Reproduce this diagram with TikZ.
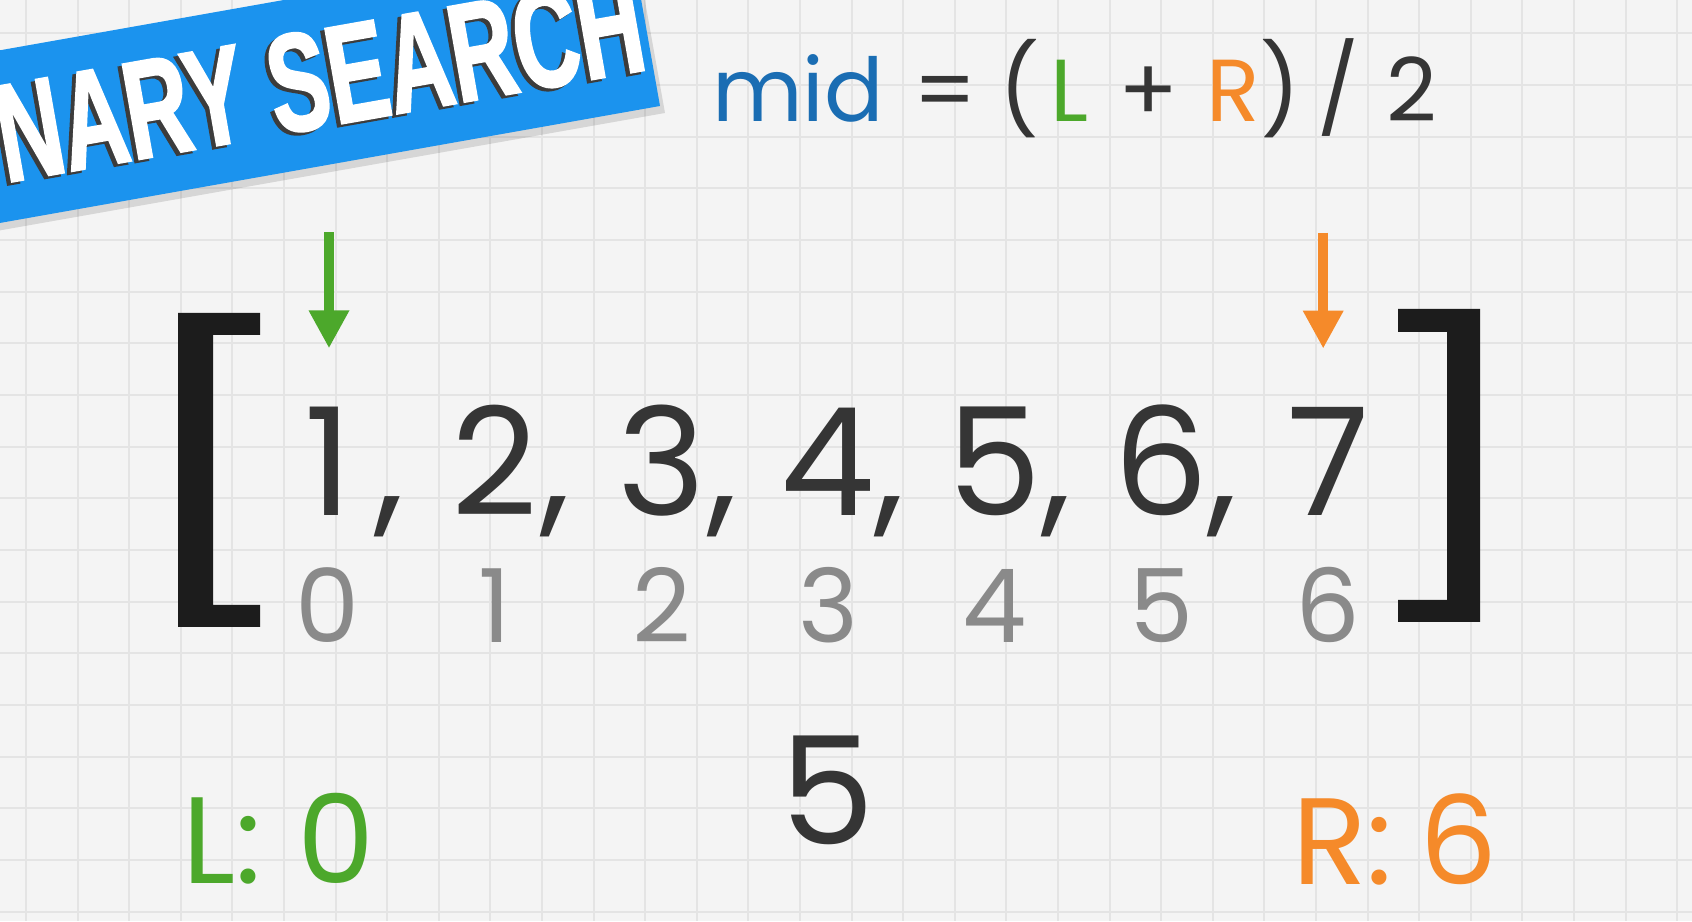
\documentclass[tikz,border=0pt]{standalone}
\usepackage{fontspec}
\setmainfont{Poppins}
\newfontfamily\bandeau{Liberation Sans}[FakeStretch=0.64, FakeBold=1.5]
\usetikzlibrary{arrows.meta,positioning}
\definecolor{fond}{HTML}{F4F4F4}
\definecolor{quadrillage}{HTML}{E4E4E4}
\definecolor{bleuvif}{HTML}{1B93EE}
\definecolor{bleu}{HTML}{1A6DB3}
\definecolor{vert}{HTML}{4CA82B}
\definecolor{orange}{HTML}{F58A2A}
\definecolor{encre}{HTML}{353535}
\definecolor{gris}{HTML}{8A8A8A}
\definecolor{noir}{HTML}{1C1C1C}
\definecolor{ombre}{HTML}{3C3C3C}
\tikzset{
  valeur/.style={inner sep=0pt, anchor=base, text=encre, font=\fontsize{150}{160}\selectfont},
  indice/.style={inner sep=0pt, anchor=base, text=gris, font=\fontsize{102}{110}\selectfont},
  compteur/.style={inner sep=0pt, anchor=base west, font=\fontsize{123}{130}\selectfont},
  formule/.style={inner sep=0pt, anchor=base, text=encre, font=\fontsize{88}{90}\selectfont},
  pointeur/.style={line width=10pt, -{Triangle[width=38pt,length=38pt]}},
  titre/.style={inner sep=0pt, anchor=base, rotate=10, font=\bandeau\bfseries\fontsize{140}{140}\selectfont},
}
\begin{document}
\begin{tikzpicture}[x=1pt, y=1pt]
	\useasboundingbox (0,0) rectangle (1692,921);
	\clip (0,0) rectangle (1692,921);
	
	% Fond quadrillé
	\fill[fond] (0,0) rectangle (1692,921);
	\foreach \k in {0,...,32}
		\draw[quadrillage, line width=2pt] ({26+51.6*\k},0) -- ({26+51.6*\k},921);
	\foreach \k in {0,...,17}
		\draw[quadrillage, line width=2pt] (0,{887.7-51.67*\k}) -- (1692,{887.7-51.67*\k});
	
	% Bandeau du titre
	\fill[black, opacity=0.12] (-196,656) -- (665,808) -- (635,976) -- (-226,824) -- cycle;
	\fill[bleuvif] (-200,662.6) -- (660,815) -- (630.3,982.4) -- (-229.7,830) -- cycle;
	\node[titre, text=ombre] at (324,792) {NARY SEARCH};
	\node[titre, text=white] (titre) at (328,795) {NARY SEARCH};
	
	% Formule du milieu
	\node[formule, text=bleu] (mid) at (798,799) {mid};
	\node[formule] (egal) at (945,799) {=};
	\node[formule] (parg) at (1019,799) {(};
	\node[formule, text=vert] (fL) at (1069,799) {L};
	\node[formule] (plus) at (1149,799) {+};
	\node[formule, text=orange] (fR) at (1233,799) {R};
	\node[formule] (pard) at (1280,799) {)};
	\node[formule] (div) at (1338,799) {/};
	\node[formule] (deux) at (1412,799) {2};
	
	% Crochets
	\fill[noir] (178,608) -- (260,608) -- (260,586) -- (213,586) -- (213,316) -- (260,316) -- (260,294) -- (178,294) -- cycle;
	\fill[noir] (1480,612) -- (1398,612) -- (1398,589) -- (1447,589) -- (1447,321) -- (1398,321) -- (1398,299) -- (1480,299) -- cycle;
	
	% Valeurs et indices
	\foreach \v [count=\i from 0] in {1,...,7} {
		\node[valeur] (v\i) at ({328+166.7*\i},405) {\v};
		\node[indice] (i\i) at ({328+166.7*\i},278) {\i};
	}
	\foreach \i in {0,...,5}
		\node[valeur, anchor=base west] (c\i) at ([xshift=46pt]v\i.base) {,};
	
	% Pointeurs L et R
	\coordinate (hautL) at ([xshift=1pt, yshift=175pt]v0.north);
	\coordinate (hautR) at ([xshift=-5pt, yshift=175pt]v6.north);
	\draw[pointeur, vert] (hautL) -- ([xshift=1pt, yshift=59pt]v0.north);
	\draw[pointeur, orange] (hautR) -- ([xshift=-5pt, yshift=59pt]v6.north);
	
	% Compteurs
	\node[valeur] (milieu) at (828,76) {5};
	\node[compteur, text=vert] (gauche) at (182,37) {L:\hspace{36pt}0};
	\node[compteur, text=orange] (droite) at (1292,36) {R:\hspace{26pt}6};
\end{tikzpicture}
\end{document}
